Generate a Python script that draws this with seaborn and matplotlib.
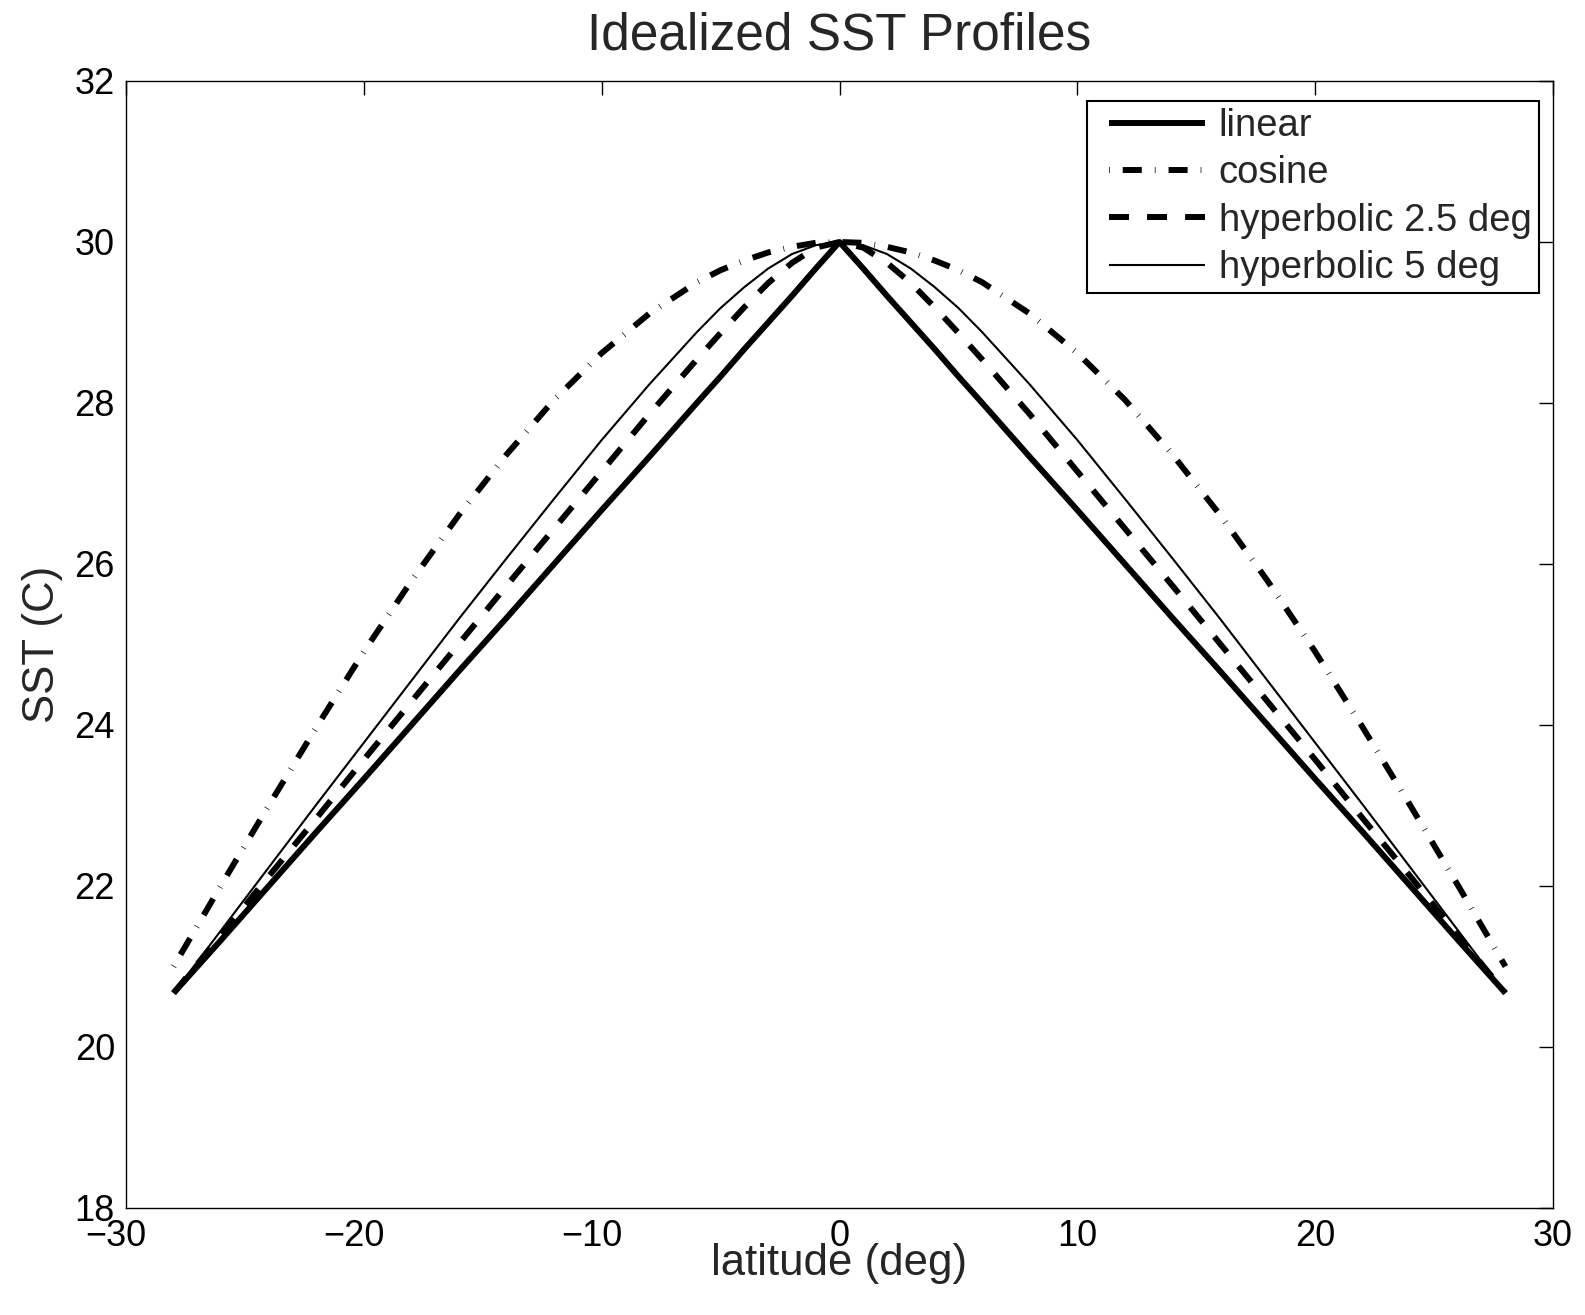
import matplotlib
matplotlib.use("Agg")
import matplotlib.pyplot as plt
import matplotlib.transforms as mtransforms
from matplotlib.lines import Line2D
from matplotlib.legend_handler import HandlerLine2D
import seaborn as sns

# ---- data ----
lat = [-28, -26, -24, -22, -20, -18, -16, -14, -12, -10, -8, -6, -5, -4, -3, -2, -1, 0,
       1, 2, 3, 4, 5, 6, 8, 10, 12, 14, 16, 18, 20, 22, 24, 26, 28]

sst_linear = [20.67, 21.33, 22.00, 22.67, 23.33, 24.00, 24.67, 25.33, 26.00, 26.67, 27.33,
              28.00, 28.33, 28.67, 29.00, 29.33, 29.67, 30.00, 29.67, 29.33, 29.00, 28.67,
              28.33, 28.00, 27.33, 26.67, 26.00, 25.33, 24.67, 24.00, 23.33, 22.67, 22.00,
              21.33, 20.67]

sst_cosine = [21.00, 22.01, 23.00, 23.97, 24.91, 25.79, 26.61, 27.36, 28.04, 28.62, 29.11,
              29.50, 29.65, 29.77, 29.87, 29.94, 29.99, 30.00, 29.99, 29.94, 29.87, 29.77,
              29.65, 29.50, 29.11, 28.62, 28.04, 27.36, 26.61, 25.79, 24.91, 23.97, 23.00,
              22.01, 21.00]

sst_hyp25 = [20.67, 21.39, 22.12, 22.84, 23.57, 24.29, 25.01, 25.73, 26.44, 27.15, 27.86,
             28.54, 28.87, 29.19, 29.49, 29.74, 29.93, 30.00, 29.93, 29.74, 29.49, 29.19,
             28.87, 28.54, 27.86, 27.15, 26.44, 25.73, 25.01, 24.29, 23.57, 22.84, 22.12,
             21.39, 20.67]

sst_hyp5 = [20.67, 21.45, 22.23, 23.01, 23.78, 24.55, 25.32, 26.07, 26.81, 27.54, 28.23,
            28.88, 29.18, 29.44, 29.67, 29.85, 29.96, 30.00, 29.96, 29.85, 29.67, 29.44,
            29.18, 28.88, 28.23, 27.54, 26.81, 26.07, 25.32, 24.55, 23.78, 23.01, 22.23,
            21.45, 20.67]

labels = ["linear", "cosine", "hyperbolic 2.5 deg", "hyperbolic 5 deg"]
x_ticks = [-30, -20, -10, 0, 10, 20, 30]
y_ticks = [18, 20, 22, 24, 26, 28, 30, 32]

# ---- style ----
sns.set_style("white")
plt.rcParams["font.family"] = ["Liberation Sans", "DejaVu Sans"]
plt.rcParams["lines.scale_dashes"] = False

fig = plt.figure(figsize=(15.85, 13.15), dpi=100)
ax = fig.add_axes([126 / 1585, 1 - 1208 / 1315, 1427 / 1585, 1127 / 1315])

styles = [
    dict(lw=4.3, linestyle="-"),
    dict(lw=4.3, linestyle=(0, (0.5, 9.4, 13.7, 9.4))),
    dict(lw=4.3, linestyle=(0, (14.4, 13.0))),
    dict(lw=1.5, linestyle="-"),
]
series = [sst_linear, sst_cosine, sst_hyp25, sst_hyp5]

for vals, lab, st in zip(series, labels, styles):
    sns.lineplot(x=lat, y=vals, ax=ax, color="black", label=lab,
                 linewidth=st["lw"], linestyle=st["linestyle"],
                 dash_capstyle="butt", solid_capstyle="butt")

ax.set_xlim(-30, 30)
ax.set_ylim(18, 32)
ax.set_xticks(x_ticks)
ax.set_yticks(y_ticks)
ax.tick_params(direction="in", top=True, right=True, length=10, width=1.0,
               labelsize=26, pad=8, colors="black")
for sp in ax.spines.values():
    sp.set_visible(True)
    sp.set_color("black")
    sp.set_linewidth(1.0)

# digits centred on tick, minus sign hanging to the left (as in the reference)
shift = mtransforms.ScaledTranslation(-0.10, 0, fig.dpi_scale_trans)
for t in ax.get_xticklabels():
    if t.get_text().startswith("\u2212") or t.get_text().startswith("-"):
        t.set_transform(t.get_transform() + shift)

ax.set_title("Idealized SST Profiles", fontsize=37, pad=23)
ax.set_xlabel("latitude (deg)", fontsize=31.5)
ax.set_ylabel("SST (C)", fontsize=31.5)
ax.xaxis.set_label_coords(0.5, -0.031)
ax.yaxis.set_label_coords(-0.044, 0.5)

leg = ax.legend(loc="upper right", bbox_to_anchor=(1539 / 1585, 1 - 101 / 1315),
                bbox_transform=fig.transFigure, borderaxespad=0, fontsize=27.5,
                frameon=True, fancybox=False, framealpha=1, edgecolor="black",
                handlelength=2.88, handletextpad=0.37, labelspacing=0.294,
                borderpad=0.19,
                handler_map={Line2D: HandlerLine2D(xpad=0.369)})
leg.get_frame().set_linewidth(1.5)

fig.savefig("out.png", dpi=100)
